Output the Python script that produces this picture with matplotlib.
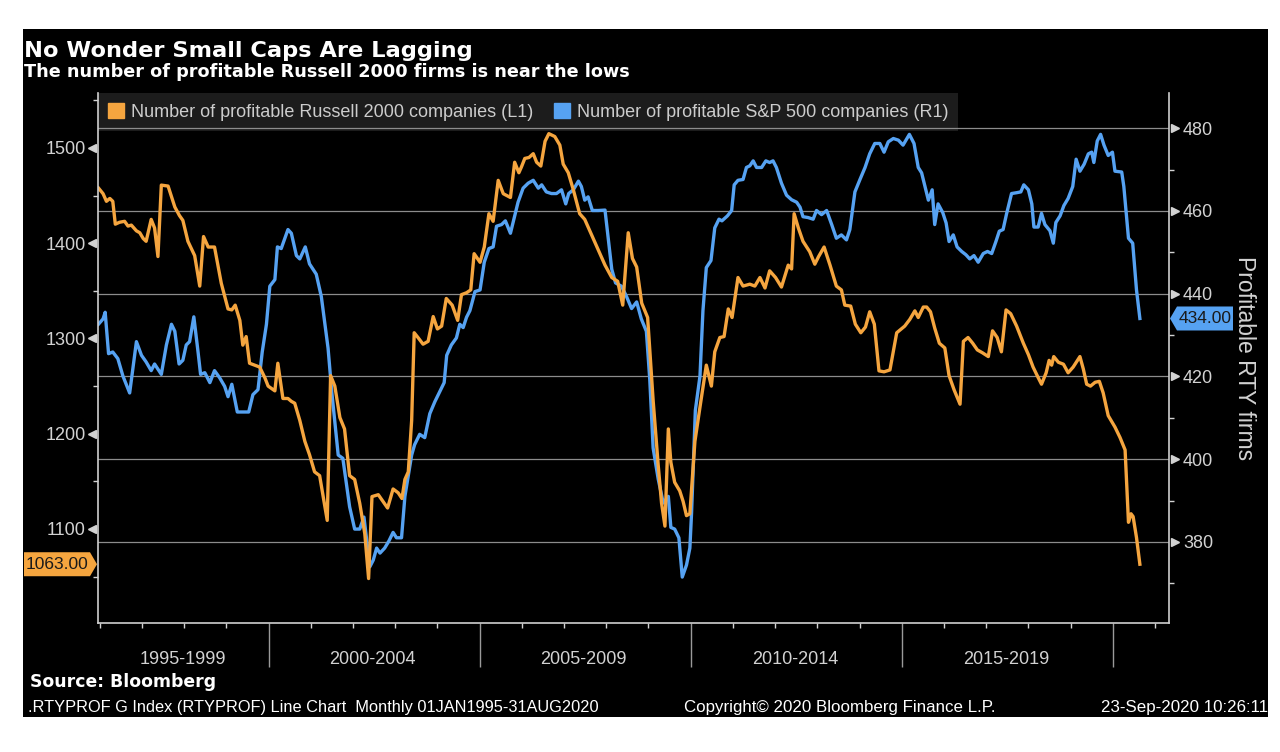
import matplotlib
matplotlib.use('Agg')
import matplotlib.pyplot as plt
from matplotlib.patches import Rectangle, Polygon, Patch
from matplotlib.ticker import MultipleLocator, FixedLocator
from matplotlib import transforms

# Number of profitable Russell 2000 companies (left axis), fractional years
rty_t = [1995.97, 1996.08, 1996.16, 1996.24, 1996.31, 1996.37, 1996.47, 1996.59, 1996.67, 1996.75,
         1996.87, 1996.95, 1997.03, 1997.10, 1997.22, 1997.30, 1997.38, 1997.46, 1997.62, 1997.78,
         1997.89, 1997.97, 1998.09, 1998.25, 1998.37, 1998.46, 1998.57, 1998.72, 1998.88, 1999.04,
         1999.13, 1999.21, 1999.32, 1999.39, 1999.47, 1999.55, 1999.67, 1999.79, 1999.91, 1999.99,
         2000.15, 2000.22, 2000.34, 2000.46, 2000.54, 2000.62, 2000.74, 2000.86, 2000.97, 2001.09,
         2001.21, 2001.39, 2001.47, 2001.57, 2001.69, 2001.80, 2001.92, 2002.04, 2002.16, 2002.28,
         2002.37, 2002.45, 2002.60, 2002.71, 2002.82, 2002.95, 2003.07, 2003.16, 2003.23, 2003.31,
         2003.39, 2003.45, 2003.54, 2003.66, 2003.78, 2003.90, 2004.00, 2004.10, 2004.21, 2004.35,
         2004.48, 2004.57, 2004.69, 2004.79, 2004.87, 2005.01, 2005.11, 2005.22, 2005.32, 2005.44,
         2005.56, 2005.73, 2005.83, 2005.93, 2005.99, 2006.07, 2006.17, 2006.27, 2006.35, 2006.45,
         2006.55, 2006.64, 2006.78, 2006.90, 2006.98, 2007.10, 2007.22, 2007.37, 2007.49, 2007.65,
         2007.81, 2007.97, 2008.13, 2008.27, 2008.39, 2008.52, 2008.62, 2008.72, 2008.84, 2008.98,
         2009.11, 2009.23, 2009.31, 2009.39, 2009.47, 2009.53, 2009.62, 2009.74, 2009.82, 2009.90,
         2009.98, 2010.10, 2010.22, 2010.37, 2010.49, 2010.57, 2010.69, 2010.79, 2010.89, 2010.98,
         2011.12, 2011.24, 2011.40, 2011.52, 2011.64, 2011.76, 2011.87, 2012.01, 2012.15, 2012.31,
         2012.39, 2012.45, 2012.55, 2012.66, 2012.82, 2012.94, 2013.03, 2013.16, 2013.30, 2013.45,
         2013.57, 2013.65, 2013.79, 2013.90, 2014.03, 2014.14, 2014.24, 2014.35, 2014.46, 2014.58,
         2014.72, 2014.88, 2014.99, 2015.07, 2015.19, 2015.31, 2015.39, 2015.51, 2015.59, 2015.68,
         2015.78, 2015.89, 2016.02, 2016.12, 2016.24, 2016.38, 2016.46, 2016.57, 2016.68, 2016.79,
         2016.91, 2017.05, 2017.15, 2017.26, 2017.36, 2017.47, 2017.58, 2017.72, 2017.88, 2018.00,
         2018.11, 2018.23, 2018.31, 2018.42, 2018.49, 2018.55, 2018.60, 2018.71, 2018.83, 2018.94,
         2019.06, 2019.22, 2019.30, 2019.38, 2019.47, 2019.58, 2019.68, 2019.77, 2019.89, 2020.05,
         2020.17, 2020.29, 2020.37, 2020.43, 2020.48, 2020.56, 2020.64]
rty_n = [1458, 1452, 1444, 1447, 1444, 1420, 1422, 1423, 1418, 1419,
         1413, 1411, 1405, 1402, 1425, 1416, 1386, 1461, 1460, 1438,
         1429, 1424, 1402, 1387, 1355, 1407, 1396, 1396, 1358, 1331,
         1330, 1335, 1319, 1293, 1302, 1274, 1272, 1270, 1259, 1250,
         1245, 1274, 1237, 1237, 1234, 1232, 1214, 1192, 1178, 1160,
         1156, 1109, 1261, 1250, 1217, 1205, 1156, 1152, 1127, 1095,
         1048, 1134, 1136, 1129, 1122, 1142, 1138, 1132, 1152, 1160,
         1214, 1306, 1301, 1294, 1297, 1323, 1310, 1313, 1342, 1335,
         1319, 1346, 1348, 1351, 1389, 1380, 1396, 1431, 1423, 1466,
         1452, 1448, 1485, 1474, 1480, 1489, 1490, 1494, 1485, 1481,
         1507, 1515, 1512, 1503, 1483, 1474, 1456, 1431, 1425, 1409,
         1393, 1377, 1364, 1360, 1335, 1411, 1384, 1375, 1337, 1322,
         1235, 1167, 1127, 1103, 1205, 1170, 1149, 1140, 1129, 1114,
         1116, 1192, 1228, 1272, 1250, 1286, 1301, 1302, 1331, 1322,
         1364, 1355, 1357, 1355, 1364, 1353, 1371, 1364, 1354, 1377,
         1373, 1431, 1416, 1402, 1391, 1378, 1386, 1396, 1377, 1355,
         1351, 1335, 1334, 1315, 1306, 1312, 1328, 1315, 1266, 1265,
         1267, 1306, 1310, 1313, 1320, 1329, 1322, 1333, 1333, 1328,
         1311, 1295, 1290, 1261, 1246, 1231, 1297, 1301, 1295, 1288,
         1285, 1281, 1308, 1301, 1286, 1330, 1326, 1313, 1295, 1283,
         1270, 1259, 1252, 1264, 1277, 1272, 1281, 1275, 1273, 1264,
         1270, 1281, 1268, 1252, 1250, 1254, 1255, 1243, 1219, 1207,
         1196, 1183, 1107, 1116, 1113, 1091, 1063]

# Number of profitable S&P 500 companies (right axis)
spx_t = [1995.97, 1996.08, 1996.13, 1996.21, 1996.31, 1996.43, 1996.55, 1996.71, 1996.87, 1996.99,
         1997.10, 1997.22, 1997.30, 1997.46, 1997.58, 1997.70, 1997.78, 1997.88, 1997.97, 1998.05,
         1998.13, 1998.23, 1998.33, 1998.39, 1998.49, 1998.61, 1998.72, 1998.84, 1998.96, 1999.04,
         1999.13, 1999.26, 1999.39, 1999.53, 1999.63, 1999.75, 1999.85, 1999.95, 2000.03, 2000.15,
         2000.21, 2000.30, 2000.46, 2000.54, 2000.66, 2000.74, 2000.87, 2000.97, 2001.13, 2001.25,
         2001.41, 2001.50, 2001.65, 2001.76, 2001.92, 2002.04, 2002.16, 2002.26, 2002.40, 2002.48,
         2002.56, 2002.64, 2002.75, 2002.85, 2002.95, 2003.03, 2003.15, 2003.23, 2003.31, 2003.39,
         2003.46, 2003.58, 2003.70, 2003.82, 2003.94, 2004.06, 2004.16, 2004.22, 2004.33, 2004.45,
         2004.53, 2004.61, 2004.69, 2004.77, 2004.89, 2005.01, 2005.11, 2005.22, 2005.32, 2005.40,
         2005.52, 2005.61, 2005.73, 2005.83, 2005.91, 2006.03, 2006.15, 2006.27, 2006.39, 2006.47,
         2006.58, 2006.70, 2006.82, 2006.94, 2007.04, 2007.11, 2007.22, 2007.34, 2007.41, 2007.49,
         2007.57, 2007.67, 2007.81, 2007.97, 2008.13, 2008.22, 2008.36, 2008.48, 2008.60, 2008.72,
         2008.83, 2008.95, 2009.03, 2009.11, 2009.23, 2009.35, 2009.47, 2009.53, 2009.62, 2009.72,
         2009.80, 2009.90, 2009.98, 2010.02, 2010.11, 2010.22, 2010.29, 2010.37, 2010.48, 2010.57,
         2010.67, 2010.74, 2010.87, 2010.97, 2011.03, 2011.12, 2011.24, 2011.32, 2011.40, 2011.48,
         2011.56, 2011.68, 2011.78, 2011.87, 2011.95, 2012.03, 2012.15, 2012.27, 2012.39, 2012.51,
         2012.59, 2012.66, 2012.78, 2012.90, 2012.98, 2013.10, 2013.22, 2013.34, 2013.45, 2013.57,
         2013.69, 2013.77, 2013.89, 2014.01, 2014.13, 2014.24, 2014.36, 2014.48, 2014.58, 2014.68,
         2014.80, 2014.92, 2015.03, 2015.18, 2015.29, 2015.39, 2015.47, 2015.57, 2015.63, 2015.72,
         2015.78, 2015.86, 2015.97, 2016.05, 2016.12, 2016.22, 2016.31, 2016.42, 2016.52, 2016.61,
         2016.71, 2016.81, 2016.93, 2017.03, 2017.13, 2017.23, 2017.31, 2017.40, 2017.48, 2017.60,
         2017.72, 2017.82, 2017.89, 2018.00, 2018.08, 2018.13, 2018.23, 2018.31, 2018.39, 2018.51,
         2018.59, 2018.65, 2018.75, 2018.84, 2018.94, 2019.05, 2019.13, 2019.22, 2019.32, 2019.42,
         2019.50, 2019.55, 2019.63, 2019.71, 2019.79, 2019.89, 2019.99, 2020.05, 2020.21, 2020.26,
         2020.37, 2020.47, 2020.56, 2020.64]
spx_n = [432.6, 433.9, 435.5, 425.5, 425.9, 424.3, 420.1, 416.0, 428.4, 425.1,
         423.5, 421.4, 423.0, 420.5, 427.6, 432.6, 430.9, 423.0, 423.9, 427.6,
         428.4, 434.4, 425.9, 420.5, 420.9, 418.5, 421.4, 419.7, 417.6, 415.1,
         418.1, 411.4, 411.4, 411.4, 415.6, 416.8, 425.9, 432.6, 441.8, 443.4,
         451.3, 450.9, 455.5, 454.6, 449.2, 448.4, 451.3, 447.2, 444.7, 439.3,
         426.8, 416.0, 401.0, 400.2, 388.5, 383.1, 383.1, 386.0, 374.0, 375.6,
         378.5, 377.3, 378.5, 380.2, 382.3, 381.0, 381.0, 391.0, 396.0, 401.0,
         403.5, 406.0, 405.2, 411.0, 413.9, 416.4, 418.5, 425.1, 427.6, 429.3,
         432.6, 431.8, 434.3, 435.9, 440.5, 440.9, 447.6, 450.9, 451.3, 456.3,
         456.7, 457.6, 454.6, 458.8, 462.1, 465.5, 466.7, 467.4, 465.5, 466.3,
         464.6, 464.2, 464.2, 465.1, 461.7, 464.2, 465.1, 467.2, 465.9, 462.6,
         463.4, 460.1, 460.1, 460.2, 445.9, 442.6, 441.8, 439.3, 436.4, 438.0,
         433.9, 430.9, 419.3, 402.7, 395.2, 389.4, 391.0, 383.5, 383.1, 381.0,
         371.5, 374.4, 378.5, 386.9, 411.8, 420.1, 435.9, 446.3, 448.0, 455.9,
         458.0, 457.6, 458.8, 460.1, 466.3, 467.4, 467.6, 470.5, 470.9, 472.1,
         470.5, 470.5, 472.1, 471.7, 472.1, 470.5, 466.7, 463.8, 462.7, 462.1,
         460.9, 458.6, 458.4, 458.0, 460.1, 459.1, 460.1, 456.7, 453.4, 454.2,
         453.0, 455.5, 464.6, 467.6, 470.5, 473.8, 476.3, 476.3, 474.2, 476.7,
         477.5, 477.1, 475.9, 478.5, 476.3, 470.5, 469.2, 465.1, 462.6, 465.1,
         456.7, 461.7, 459.6, 457.1, 452.6, 454.2, 451.3, 450.2, 449.4, 448.4,
         449.2, 447.6, 449.7, 450.2, 449.7, 452.6, 455.1, 455.5, 459.2, 464.2,
         464.4, 464.6, 466.3, 465.1, 461.7, 456.1, 456.1, 459.4, 456.7, 455.2,
         452.2, 457.2, 458.8, 461.3, 463.0, 465.9, 472.5, 469.6, 471.3, 473.8,
         474.2, 471.7, 476.9, 478.5, 475.9, 473.4, 474.2, 469.6, 469.4, 465.9,
         453.4, 452.2, 440.9, 434.0]

period_labels = ['1995-1999', '2000-2004', '2005-2009', '2010-2014', '2015-2019']
period_mid = [1997.97, 2002.45, 2007.45, 2012.48, 2017.48]
separators = [2000, 2005, 2010, 2015, 2020]
years = list(range(1996, 2022))

ORANGE = '#f5a53f'
BLUE = '#56a2f2'
FG = '#d2d2d2'
FONT = 'Liberation Sans'

fig = plt.figure(figsize=(12.8, 7.52), dpi=100, facecolor='white')
fig.patches.append(Rectangle((23 / 1280, 35 / 752), 1245 / 1280, 688 / 752,
                             transform=fig.transFigure, facecolor='black',
                             edgecolor='none', zorder=-10))

ax = fig.add_axes([98 / 1280, 129 / 752, 1071 / 1280, 530 / 752])
ax2 = ax.twinx()
ax.set_zorder(2)
ax.patch.set_visible(False)
ax2.patch.set_visible(False)

ax.plot(rty_t, rty_n, color=ORANGE, lw=2.4, solid_joinstyle='round')
ax2.plot(spx_t, spx_n, color=BLUE, lw=2.4, solid_joinstyle='round', zorder=3)

ax.set_xlim(1995.96, 2021.33)
ax.set_ylim(1001.3, 1557.7)
ax2.set_ylim(360.4, 488.5)

# spines
for a in (ax, ax2):
    a.spines['top'].set_visible(False)
ax.spines['right'].set_visible(False)
ax2.spines['left'].set_visible(False)
ax2.spines['bottom'].set_visible(False)
for s in (ax.spines['left'], ax.spines['bottom'], ax2.spines['right']):
    s.set_color('#cfcfcf')
    s.set_linewidth(1.2)

# left axis ticks
ax.yaxis.set_major_locator(MultipleLocator(100))
ax.yaxis.set_minor_locator(MultipleLocator(50))
ax.tick_params(axis='y', which='major', length=0, pad=9, labelsize=13, labelcolor=FG)
ax.tick_params(axis='y', which='minor', length=3.5, width=1, color=FG)
for lab in ax.get_yticklabels():
    lab.set_fontfamily(FONT)
left_maj = [v for v in range(1100, 1600, 100)]
tr_l = ax.get_yaxis_transform() + transforms.ScaledTranslation(-4 / 72, 0, fig.dpi_scale_trans)
ax.plot([0] * len(left_maj), left_maj, ls='none', marker='<', ms=6, color=FG,
        transform=tr_l, clip_on=False)

# right axis ticks
ax2.yaxis.set_major_locator(MultipleLocator(20))
ax2.yaxis.set_minor_locator(MultipleLocator(10))
ax2.tick_params(axis='y', which='major', length=0, pad=10, labelsize=13, labelcolor=FG)
ax2.tick_params(axis='y', which='minor', length=3.5, width=1, color=FG)
for lab in ax2.get_yticklabels():
    lab.set_fontfamily(FONT)
right_maj = list(range(380, 500, 20))
tr_r = ax2.get_yaxis_transform() + transforms.ScaledTranslation(4 / 72, 0, fig.dpi_scale_trans)
ax2.plot([1] * len(right_maj), right_maj, ls='none', marker='>', ms=6, color=FG,
         transform=tr_r, clip_on=False)
ax2.yaxis.grid(True, which='major', color='#8c8c8c', lw=0.9)

# x axis: long separators between periods, yearly small ticks
ax.set_xticks(separators)
ax.set_xticklabels([])
ax.xaxis.set_minor_locator(FixedLocator(years))
ax.tick_params(axis='x', which='major', length=32, width=1, color='#9a9a9a')
ax.tick_params(axis='x', which='minor', length=3.5, width=1, color=FG)
for m, lab in zip(period_mid, period_labels):
    ax.text(m, -0.068, lab, transform=ax.get_xaxis_transform(), ha='center', va='center',
            color=FG, fontsize=13, family=FONT)

# legend
leg = ax2.legend([Patch(color=ORANGE), Patch(color=BLUE)],
                 ['Number of profitable Russell 2000 companies (L1)',
                  'Number of profitable S&P 500 companies (R1)'],
                 loc='upper left', bbox_to_anchor=(0, 1), borderaxespad=0, ncol=2,
                 frameon=True, fancybox=False, facecolor='#1c1c1c', edgecolor='none',
                 framealpha=1, handlelength=0.9, handleheight=0.9, handletextpad=0.4,
                 columnspacing=1.1, borderpad=0.55, prop={'family': FONT, 'size': 13})
for t in leg.get_texts():
    t.set_color('#cccccc')
leg.set_zorder(1)

# last value tags
fig.canvas.draw()
x0, y0 = ax.transData.transform((ax.get_xlim()[0], rty_n[-1]))
fig.patches.append(Polygon([(x0 - 1, y0), (x0 - 8, y0 + 12), (x0 - 74, y0 + 12),
                            (x0 - 74, y0 - 12), (x0 - 8, y0 - 12)], closed=True,
                           transform=transforms.IdentityTransform(), facecolor=ORANGE,
                           edgecolor='none', zorder=5))
fig.text(x0 - 41, y0, '%.2f' % rty_n[-1], transform=transforms.IdentityTransform(),
         ha='center', va='center', fontsize=12.5, family=FONT, color='#1a1a1a', zorder=6)
x1, y1 = ax2.transData.transform((ax.get_xlim()[1], spx_n[-1]))
fig.patches.append(Polygon([(x1 + 1, y1), (x1 + 8, y1 + 12), (x1 + 64, y1 + 12),
                            (x1 + 64, y1 - 12), (x1 + 8, y1 - 12)], closed=True,
                           transform=transforms.IdentityTransform(), facecolor=BLUE,
                           edgecolor='none', zorder=5))
fig.text(x1 + 36, y1, '%.2f' % spx_n[-1], transform=transforms.IdentityTransform(),
         ha='center', va='center', fontsize=12.5, family=FONT, color='#1a1a1a', zorder=6)

fig.text(1245 / 1280, 1 - 358 / 752, 'Profitable RTY firms', rotation=270, ha='center',
         va='center', color=FG, fontsize=16.5, family=FONT)

# titles and footer
fig.text(24 / 1280, 1 - 57 / 752, 'No Wonder Small Caps Are Lagging', color='white',
         fontsize=16.2, fontweight='bold', family='DejaVu Sans', va='baseline')
fig.text(24 / 1280, 1 - 77 / 752, 'The number of profitable Russell 2000 firms is near the lows',
         color='white', fontsize=12.7, fontweight='bold', family='DejaVu Sans', va='baseline')
fig.text(30 / 1280, 1 - 687 / 752, 'Source: Bloomberg', color='white', fontsize=12.4,
         fontweight='bold', family='DejaVu Sans', va='baseline')
fig.text(28 / 1280, 1 - 712 / 752,
         '.RTYPROF G Index (RTYPROF) Line Chart  Monthly 01JAN1995-31AUG2020',
         color='white', fontsize=11.8, family=FONT, va='baseline')
fig.text(684 / 1280, 1 - 712 / 752, 'Copyright\u00a9 2020 Bloomberg Finance L.P.',
         color='white', fontsize=12.2, family=FONT, va='baseline')
fig.text(1268 / 1280, 1 - 712 / 752, '23-Sep-2020 10:26:11', color='white', fontsize=12.2,
         family=FONT, va='baseline', ha='right')

fig.savefig('out.png', dpi=100, facecolor='white')
